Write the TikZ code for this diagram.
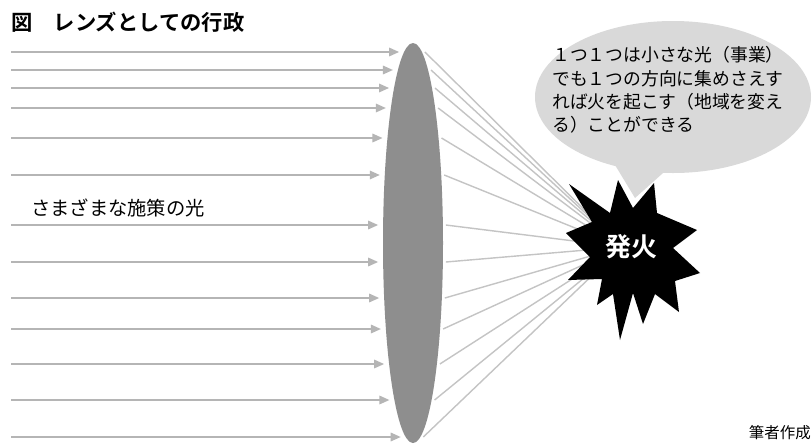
\documentclass[tikz,border=0pt]{standalone}
\usepackage{fontspec}
\newfontfamily\jp{Noto Sans CJK JP}[BoldFont={Noto Sans CJK JP Bold}]
\usetikzlibrary{shapes.geometric,arrows.meta}
\definecolor{arrowgray}{HTML}{B5B5B5}
\definecolor{raygray}{HTML}{C4C4C4}
\definecolor{lensgray}{HTML}{8E8E8E}
\definecolor{bubblegray}{HTML}{D9D9D9}
\begin{document}
\begin{tikzpicture}[x=1pt,y=-1pt,
  arrowline/.style={draw=arrowgray, line width=1.6pt, -{Triangle[length=10pt,width=8.5pt]}},
  rayline/.style={draw=raygray, line width=1.4pt},
  txt/.style={inner sep=0pt, font=\jp}]
\useasboundingbox (0,0) rectangle (812,445);
\fill[white] (0,0) rectangle (812,445);

\node[txt, anchor=west, font=\jp\bfseries\fontsize{21.3}{24}\selectfont] (title) at (11,22) {図　レンズとしての行政};

\coordinate (focus) at (622,247);
\foreach \y in {52,70,88,108,138,175,225,262,298,329,364,400,437}{
  \pgfmathsetmacro\s{30*sqrt(1-((\y-243)/200)^2)}
  \coordinate (a\y) at (11,\y);
  \coordinate (t\y) at ({413-\s-5},\y);
  \coordinate (r\y) at ({413+\s+3},\y);
  \draw[arrowline] (a\y) -- (t\y);
  \draw[rayline] (r\y) -- (focus);
}

\node[ellipse, fill=lensgray, minimum width=60pt, minimum height=400pt, inner sep=0pt] (lens) at (413,243) {};

\node[txt, anchor=west, font=\jp\fontsize{19.3}{23}\selectfont] (policy) at (31,208) {さまざまな施策の光};

\node[ellipse, fill=bubblegray, minimum width=276pt, minimum height=152pt, inner sep=0pt] (bubble) at (673,97) {};
\fill[bubblegray] (612,160) -- (635,198) -- (672,165) -- cycle;
\node[txt, anchor=west, font=\jp\fontsize{17.8}{20}\selectfont] (b1) at (552,55) {１つ１つは小さな光（事業）};
\node[txt, anchor=west, font=\jp\fontsize{17.8}{20}\selectfont] (b2) at (552,79) {でも１つの方向に集めさえす};
\node[txt, anchor=west, font=\jp\fontsize{17.8}{20}\selectfont] (b3) at (552,102) {れば火を起こす（地域を変え};
\node[txt, anchor=west, font=\jp\fontsize{17.8}{20}\selectfont] (b4) at (552,125) {る）ことができる};

\fill[black] (569,184) -- (610,213) -- (618,180) -- (633,208) -- (654,183) -- (657,213)
  -- (697,230) -- (673,248) -- (700,273) -- (675,281) -- (679,312) -- (655,294)
  -- (643,324) -- (633,293) -- (620,340) -- (613,294) -- (597,305) -- (602,279)
  -- (568,280) -- (590,257) -- (566,233) -- (592,222) -- cycle;
\node[txt, text=white, font=\jp\bfseries\fontsize{26}{30}\selectfont] (fire) at (631,247) {発火};

\node[txt, anchor=east, font=\jp\fontsize{15.5}{18}\selectfont] (src) at (811,433) {筆者作成};
\end{tikzpicture}
\end{document}
